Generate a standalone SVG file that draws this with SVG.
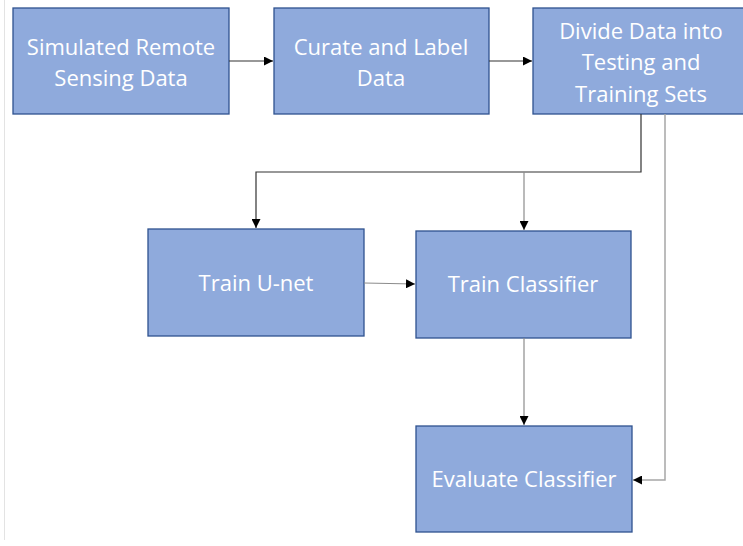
<svg xmlns="http://www.w3.org/2000/svg" width="743" height="546" viewBox="0 0 743 546">
<style>
.box{fill:#8FAADC;stroke:#2F528F;stroke-width:1.3}
.lbl{font-family:"Open Sans","Liberation Sans",sans-serif;font-size:22px;fill:#ffffff;text-anchor:middle}
.dk{fill:none;stroke:#333333;stroke-width:1.2}
.gy{fill:none;stroke:#8c8c8c;stroke-width:1.2}
.lg{fill:none;stroke:#a6a6a6;stroke-width:1.5}
</style>
<defs>
<marker id="ah" viewBox="0 0 10 10" refX="10" refY="5" markerWidth="9" markerHeight="9" markerUnits="userSpaceOnUse" orient="auto">
<path d="M0,0 L10,5 L0,10 Z" fill="#000"/>
</marker>
</defs>
<rect width="743" height="546" fill="#fff"/>
<line x1="4.5" y1="0" x2="4.5" y2="540" stroke="#e3e3e3" stroke-width="1"/>
<g id="n1"><rect class="box" x="13" y="8" width="216" height="106"/>
<text class="lbl" x="121" y="55">Simulated Remote</text>
<text class="lbl" x="121" y="86">Sensing Data</text></g>
<g id="n2"><rect class="box" x="274" y="8" width="215" height="106"/>
<text class="lbl" x="381" y="55">Curate and Label</text>
<text class="lbl" x="381" y="86">Data</text></g>
<g id="n3"><rect class="box" x="533" y="8" width="215" height="106"/>
<text class="lbl" x="641" y="39">Divide Data into</text>
<text class="lbl" x="641" y="70">Testing and</text>
<text class="lbl" x="641" y="102">Training Sets</text></g>
<g id="n4"><rect class="box" x="148" y="229" width="216" height="107"/>
<text class="lbl" x="256" y="291">Train U-net</text></g>
<g id="n5"><rect class="box" x="416" y="231" width="215" height="107"/>
<text class="lbl" x="523" y="292">Train Classifier</text></g>
<g id="n6"><rect class="box" x="416" y="426" width="216" height="106"/>
<text class="lbl" x="524" y="487">Evaluate Classifier</text></g>
<g id="connectors">
<line class="dk" x1="229" y1="61" x2="273" y2="61" marker-end="url(#ah)"/>
<line class="dk" x1="489" y1="61" x2="532" y2="61" marker-end="url(#ah)"/>
<polyline class="dk" points="641,114 641,172 256,172 256,228" marker-end="url(#ah)"/>
<polyline class="gy" points="524,172 524,230" marker-end="url(#ah)"/>
<polyline class="gy" points="364,283 415,284" marker-end="url(#ah)"/>
<line class="gy" x1="524" y1="338" x2="524" y2="425" marker-end="url(#ah)"/>
<polyline class="lg" points="665,114 665,480 633,480" marker-end="url(#ah)"/>
</g>
</svg>
